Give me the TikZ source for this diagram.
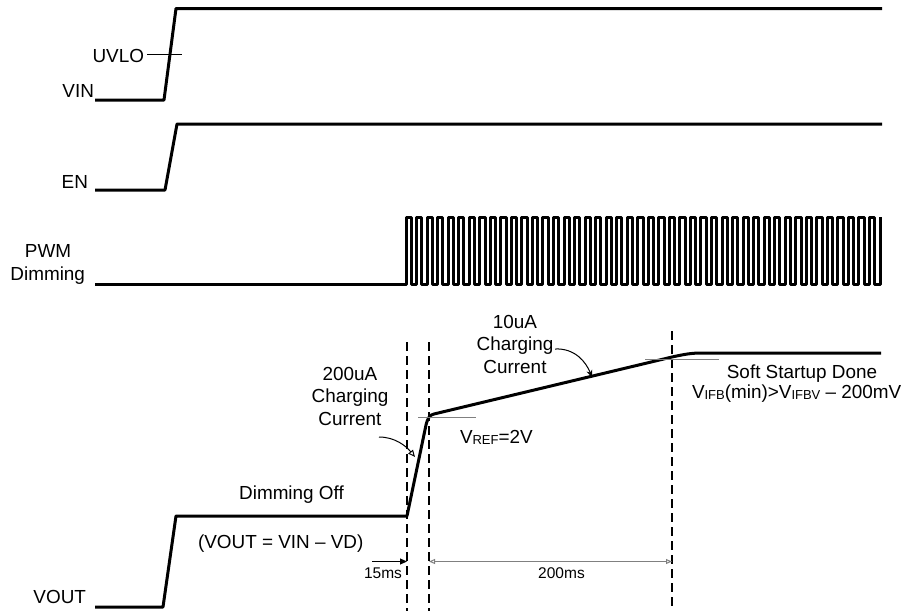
\documentclass[tikz,border=0pt]{standalone}
\usepackage{fontspec}
\setmainfont{Liberation Sans}
\usetikzlibrary{arrows.meta}
\newcommand{\mysub}[1]{\raisebox{-1.5pt}{\fontsize{13}{13}\selectfont #1}}
\begin{document}
\begin{tikzpicture}[x=1pt,y=-1pt,
  sig/.style={line width=3pt, line join=round},
  dashv/.style={line width=2.5pt, dash pattern=on 9pt off 5pt},
  tick/.style={line width=1pt, gray},
  lbl/.style={font=\fontsize{18.9}{22.5}\selectfont, inner sep=0pt, outer sep=0pt},
  small/.style={font=\fontsize{15.5}{18}\selectfont, inner sep=0pt, outer sep=0pt},
  callout/.style={line width=1pt, -{Triangle[open,length=7pt,width=6pt]}},
  dimline/.style={line width=1pt}
]
\useasboundingbox (0,0) rectangle (906,611);

% VIN
\draw[sig] (95,100) -- (164,100) -- (176,8.5) -- (882,8.5);
\draw[line width=1pt] (147,54) -- (182,54);
\node[lbl, anchor=base east] (uvlo) at (144,62) {UVLO};
\node[lbl, anchor=base east] (vin) at (94,97) {VIN};

% EN
\draw[sig] (95,190) -- (165,190) -- (177,124) -- (882,124);
\node[lbl, anchor=base east] (en) at (88,188) {EN};

% PWM
\draw[sig] (95,284) -- (406,284)
  \foreach \k in {1,...,45}{ -- ++(0,-67) -- ++(5.2667,0) -- ++(0,67) -- ++(5.2667,0)}
  -- ++(0,-67);
\node[lbl, anchor=base] (pwm) at (48,257.5) {PWM};
\node[lbl, anchor=base east] (dim) at (85,280) {Dimming};

% VOUT
\draw[sig] (95,607) -- (163,607) -- (176,516) -- (407,516) -- (426,425)
  .. controls (428,417) and (430,415) .. (434,414) -- (672,357)
  .. controls (690,353) and (695,353) .. (705,353) -- (881,353);
\node[lbl, anchor=base east] (vout) at (86,603) {VOUT};

% dashed markers
\draw[dashv] (407,342) -- (407,611);
\draw[dashv] (429,342) -- (429,611);
\draw[dashv] (672,331) -- (672,611);

% grey ticks
\draw[tick] (418,417) -- (476,417);
\draw[tick] (645,359) -- (719,359);

% labels
\node[lbl, anchor=base] (doff) at (291.5,499) {Dimming Off};
\node[lbl, anchor=base west] (eq) at (198,548) {(VOUT = VIN -- VD)};

\node[lbl, anchor=base] (a1) at (350,380) {200uA};
\node[lbl, anchor=base] (a2) at (350,402.5) {Charging};
\node[lbl, anchor=base] (a3) at (350,425) {Current};

\node[lbl, anchor=base] (b1) at (515,328) {10uA};
\node[lbl, anchor=base] (b2) at (515,350.5) {Charging};
\node[lbl, anchor=base] (b3) at (515,373) {Current};

\node[lbl, anchor=base west] (vref) at (460,443) {V\mysub{REF}=2V};

\node[lbl, anchor=base] (ss1) at (802,378) {Soft Startup Done};
\node[lbl, anchor=base west] (ss2) at (692,398) {V\mysub{IFB}(min)>V\mysub{IFBV} -- 200mV};

% callout arrows
\coordinate (t1) at (415,457);
\coordinate (s1) at (379,437);
\draw[callout] (s1) .. controls (395,437) and (406,446) .. (t1);
\coordinate (s2) at (555,349);
\coordinate (t2) at (592,377);
\draw[line width=1pt, -{Stealth[length=7pt,width=6pt]}] (s2) .. controls (575,348) and (586,362) .. (t2);

% dimension arrows
\coordinate (d0) at (372,561.5);
\coordinate (d1) at (407,561.5);
\coordinate (d2) at (429,561.5);
\coordinate (d3) at (672,561.5);
\draw[dimline, -{Triangle[length=7pt,width=6pt]}] (d0) -- (d1);
\draw[dimline, gray, {Triangle[open,length=6pt,width=5pt]}-{Triangle[open,length=6pt,width=5pt]}] (d2) -- (d3);
\node[small, anchor=base east] (t15) at (402,578) {15ms};
\node[small, anchor=base] (t200) at (561.5,578) {200ms};
\end{tikzpicture}
\end{document}
